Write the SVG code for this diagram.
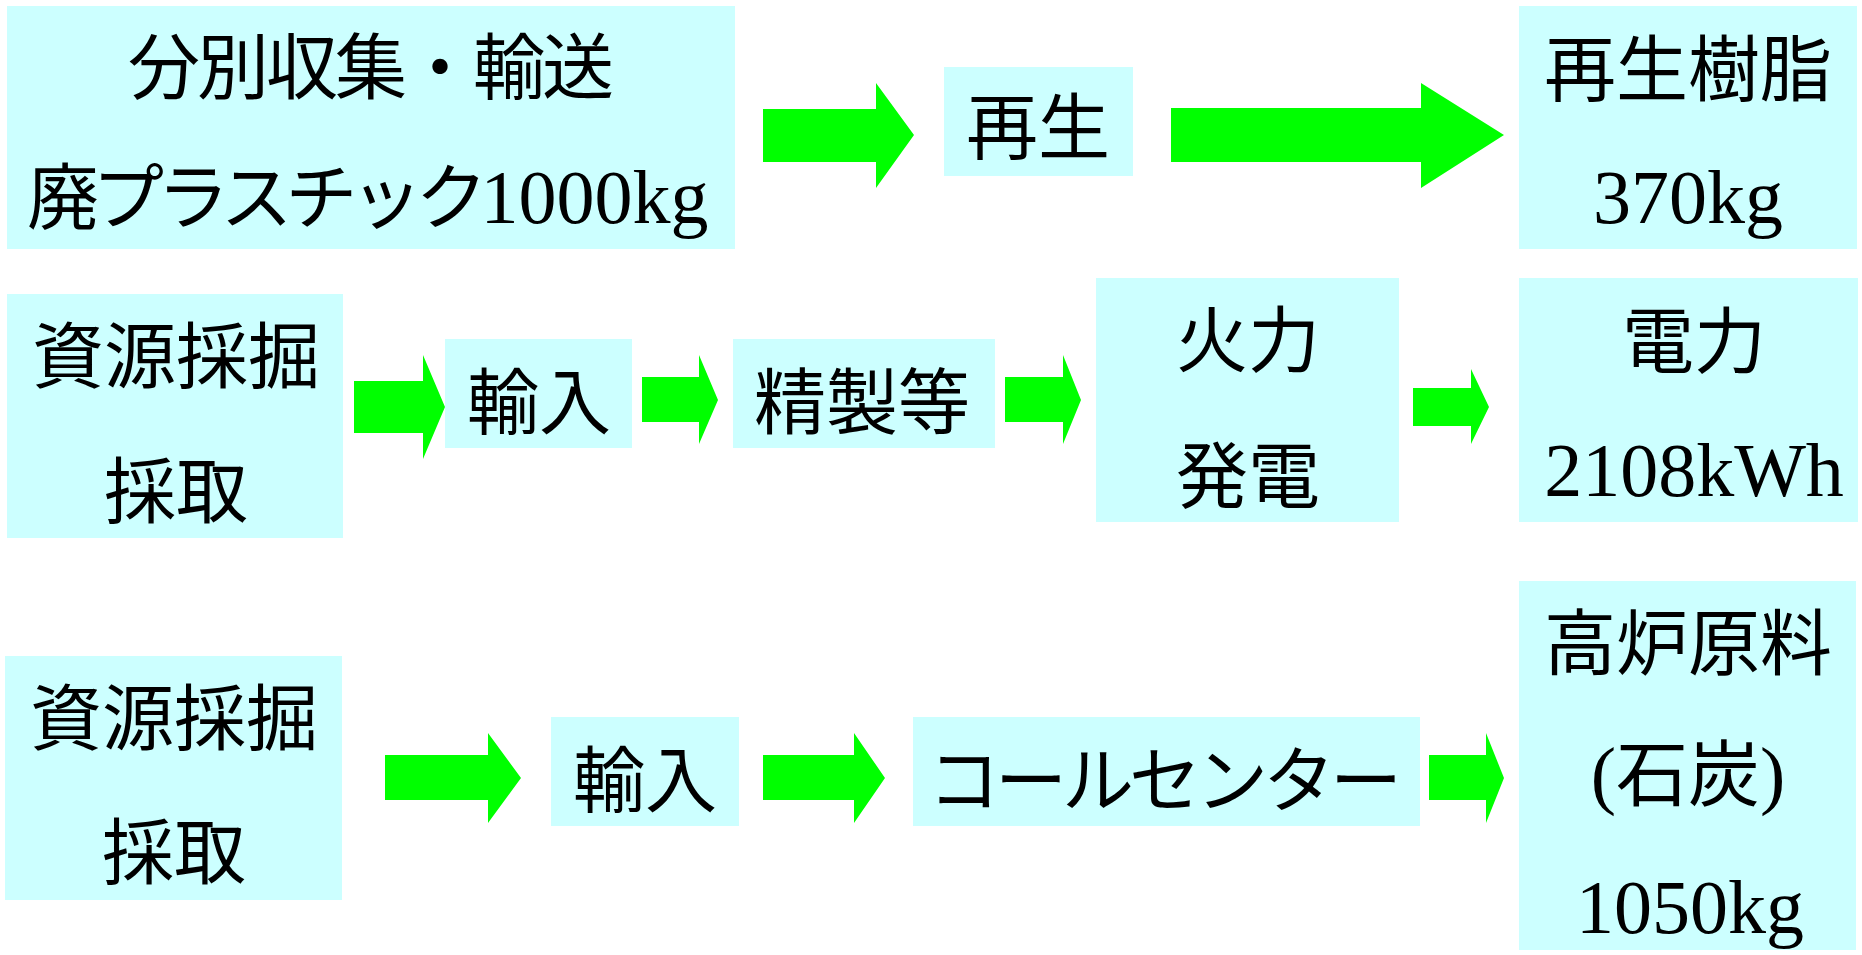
<svg xmlns="http://www.w3.org/2000/svg" width="1862" height="955" viewBox="0 0 1862 955">
<style>
.box{fill:#CCFFFF}
.arr{fill:#00FF00}
.j{font-family:"Noto Sans CJK JP","Noto Sans CJK SC",sans-serif;font-size:72px;fill:#000}
.s{font-family:"Liberation Serif","Times New Roman",serif;font-size:76px;fill:#000}
.m{text-anchor:middle}
</style>
<rect width="1862" height="955" fill="#fff"/>
<g id="connectors">
<polygon class="arr" points="763,109 876,109 876,83 914,135 876,188 876,162 763,162"/>
<polygon class="arr" points="1171,108 1421,108 1421,83 1504,135 1421,188 1421,162 1171,162"/>
<polygon class="arr" points="354,381 423,381 423,355 445,407 423,459 423,433 354,433"/>
<polygon class="arr" points="642,377 699,377 699,355 718,400 699,444 699,422 642,422"/>
<polygon class="arr" points="1005,377 1063,377 1063,355 1081,400 1063,444 1063,422 1005,422"/>
<polygon class="arr" points="1413,388 1471,388 1471,369 1489,407 1471,444 1471,426 1413,426"/>
<polygon class="arr" points="385,755 488,755 488,733 521,778 488,823 488,800 385,800"/>
<polygon class="arr" points="763,755 854,755 854,733 885,778 854,823 854,800 763,800"/>
<polygon class="arr" points="1429,755 1486,755 1486,733 1504,778 1486,823 1486,800 1429,800"/>
</g>
<g id="n1">
<rect class="box" x="7" y="6" width="728" height="243"/>
<text class="j" x="128" y="93" letter-spacing="-3">分別収集・輸送</text>
<text x="27" y="223"><tspan class="j" letter-spacing="-7">廃プラスチック</tspan><tspan class="s">1000kg</tspan></text>
</g>
<g id="n2">
<rect class="box" x="944" y="67" width="189" height="109"/>
<text class="j m" x="1038" y="153">再生</text>
</g>
<g id="n3">
<rect class="box" x="1519" y="6" width="338" height="243"/>
<text class="j m" x="1688" y="95">再生樹脂</text>
<text class="s m" x="1688" y="223">370kg</text>
</g>
<g id="n4">
<rect class="box" x="7" y="294" width="336" height="244"/>
<text class="j m" x="176" y="382">資源採掘</text>
<text class="j m" x="176" y="517">採取</text>
</g>
<g id="n5">
<rect class="box" x="445" y="339" width="187" height="109"/>
<text class="j m" x="539" y="428">輸入</text>
</g>
<g id="n6">
<rect class="box" x="733" y="339" width="262" height="109"/>
<text class="j m" x="862" y="428">精製等</text>
</g>
<g id="n7">
<rect class="box" x="1096" y="278" width="303" height="244"/>
<text class="j m" x="1248" y="366">火力</text>
<text class="j m" x="1248" y="502">発電</text>
</g>
<g id="n8">
<rect class="box" x="1519" y="278" width="339" height="244"/>
<text class="j m" x="1694" y="367">電力</text>
<text class="s m" x="1694" y="496">2108kWh</text>
</g>
<g id="n9">
<rect class="box" x="5" y="656" width="337" height="244"/>
<text class="j m" x="174" y="744">資源採掘</text>
<text class="j m" x="174" y="878">採取</text>
</g>
<g id="n10">
<rect class="box" x="551" y="717" width="188" height="109"/>
<text class="j m" x="645" y="806">輸入</text>
</g>
<g id="n11">
<rect class="box" x="913" y="717" width="507" height="109"/>
<text class="j" x="928" y="806" letter-spacing="-5">コールセンター</text>
</g>
<g id="n12">
<rect class="box" x="1519" y="581" width="337" height="369"/>
<text class="j m" x="1688" y="669">高炉原料</text>
<text x="1688" y="800" text-anchor="middle"><tspan class="s">(</tspan><tspan class="j">石炭</tspan><tspan class="s">)</tspan></text>
<text class="s m" x="1690" y="933">1050kg</text>
</g>
</svg>
